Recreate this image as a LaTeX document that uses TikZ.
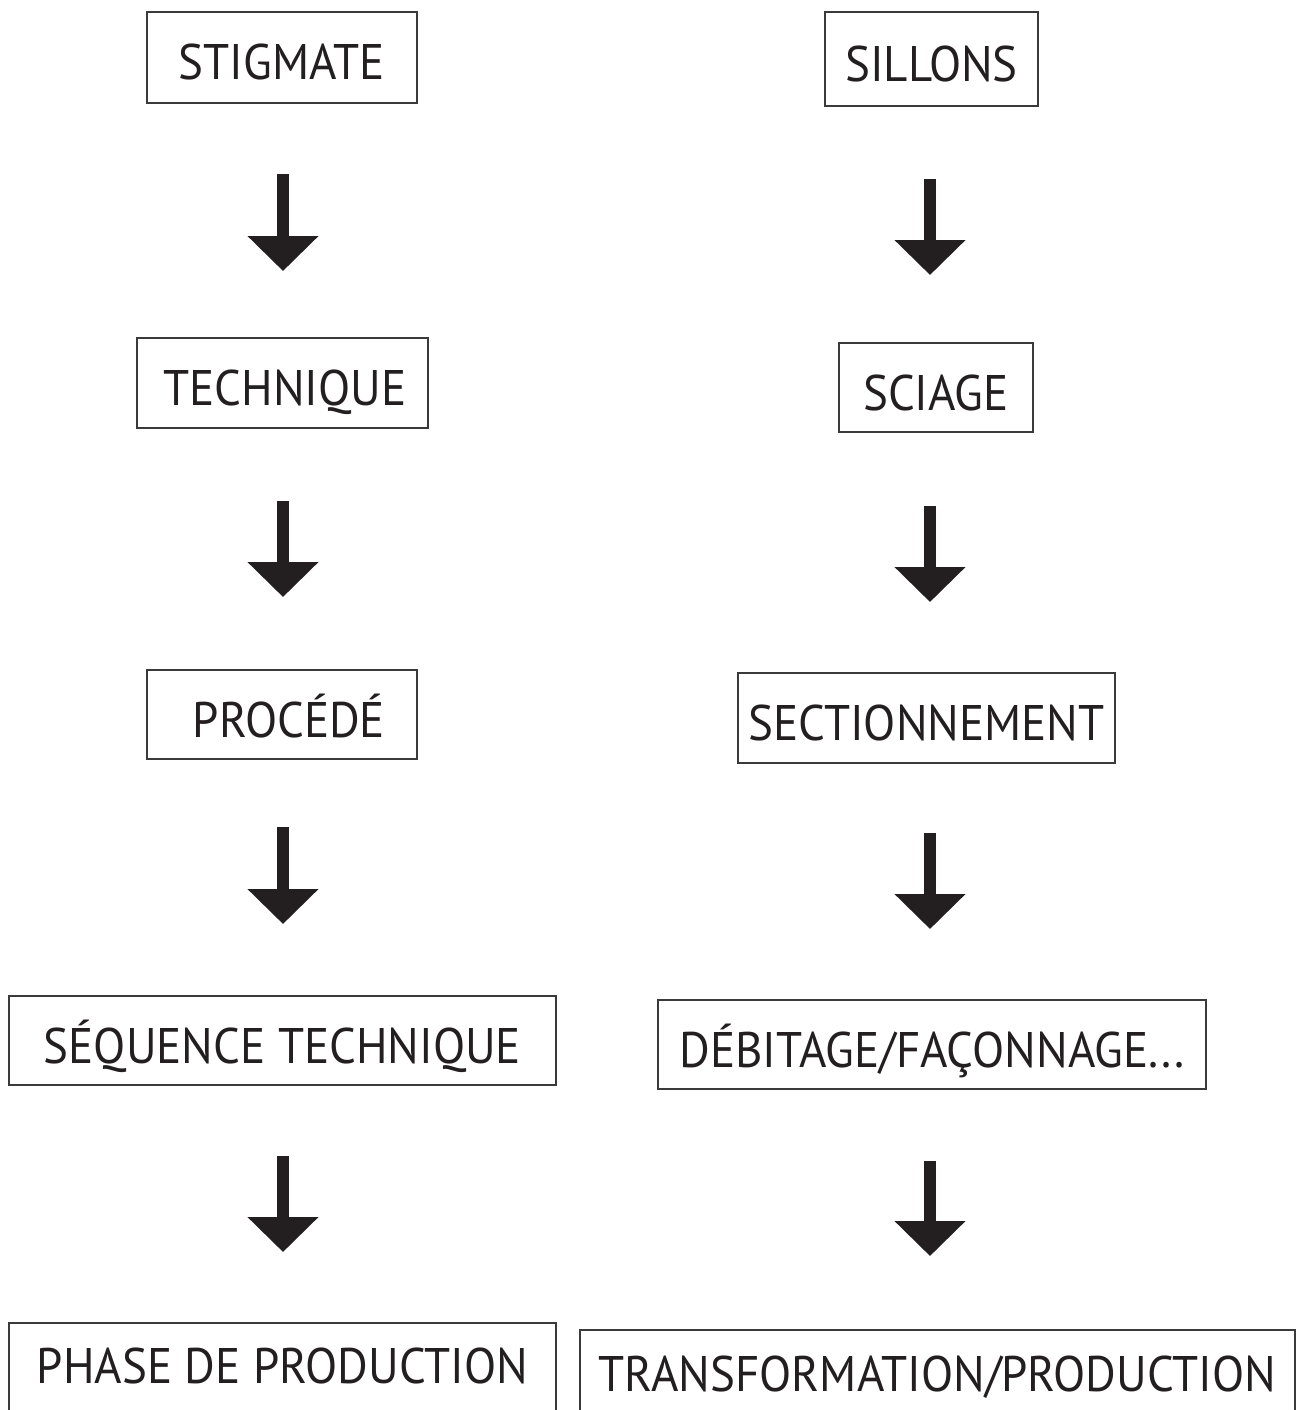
\documentclass[tikz,border=0pt]{standalone}
\usepackage{fontspec}
\setmainfont{PT Sans}[FakeStretch=0.94]
\usetikzlibrary{arrows.meta,calc}
\definecolor{ink}{HTML}{231F20}
\definecolor{edge}{HTML}{3A3A3A}
\tikzset{
  box/.style={draw=edge, line width=2pt, rectangle, inner sep=0pt,
    text=ink, font=\fontsize{50}{60}\selectfont,
    text height=45pt, text depth=0pt},
  bigarrow/.style={draw=ink, line width=12pt,
    -{Triangle[width=69pt,length=35pt]}},
}
\begin{document}
\begin{tikzpicture}[x=1pt,y=-1pt]
\useasboundingbox (0,0) rectangle (1299,1410);
\clip (0,0) rectangle (1299,1410);
\fill[white] (0,0) rectangle (1299,1410);
\coordinate (xL) at (283,0);
\coordinate (xR) at (930,0);
% left column
\node[box, minimum width=270pt, minimum height=91pt] (stig) at (282,57.5) {STIGMATE};
\node[box, minimum width=291pt, minimum height=90pt] (tech) at (282.5,383) {\hspace*{5pt}TECHNIQUE};
\node[box, minimum width=270pt, minimum height=89pt] (proc) at (282,714.5) {\hspace*{14pt}PROCÉDÉ};
\node[box, minimum width=547pt, minimum height=89pt] (seq) at (282.5,1040.5) {SÉQUENCE TECHNIQUE};
\node[box, minimum width=547pt, minimum height=89pt, text height=31pt] (phase) at (282.5,1367.5) {PHASE DE PRODUCTION};
% right column
\node[box, minimum width=213pt, minimum height=94pt] (sill) at (931.5,59) {SILLONS};
\node[box, minimum width=194pt, minimum height=89pt] (sci) at (936,387.5) {SCIAGE};
\node[box, minimum width=377pt, minimum height=90pt] (sect) at (926.5,718) {SECTIONNEMENT};
\node[box, minimum width=548pt, minimum height=89pt] (deb) at (932,1044.5) {DÉBITAGE/FAÇONNAGE...};
\node[box, minimum width=715pt, minimum height=89pt, text height=33pt] (trans) at (937.5,1374.5) {TRANSFORMATION/PRODUCTION};
% arrows
\draw[bigarrow, shorten <=70pt, shorten >=66pt] (stig.south -| xL) -- (tech.north -| xL);
\draw[bigarrow, shorten <=72pt, shorten >=72pt] (tech.south -| xL) -- (proc.north -| xL);
\draw[bigarrow, shorten <=67pt, shorten >=71pt] (proc.south -| xL) -- (seq.north -| xL);
\draw[bigarrow, shorten <=70pt, shorten >=70pt] (seq.south -| xL) -- (phase.north -| xL);
\draw[bigarrow, shorten <=72pt, shorten >=67pt] (sill.south -| xR) -- (sci.north -| xR);
\draw[bigarrow, shorten <=73pt, shorten >=70pt] (sci.south -| xR) -- (sect.north -| xR);
\draw[bigarrow, shorten <=69pt, shorten >=70pt] (sect.south -| xR) -- (deb.north -| xR);
\draw[bigarrow, shorten <=71pt, shorten >=73pt] (deb.south -| xR) -- (trans.north -| xR);
\end{tikzpicture}
\end{document}
